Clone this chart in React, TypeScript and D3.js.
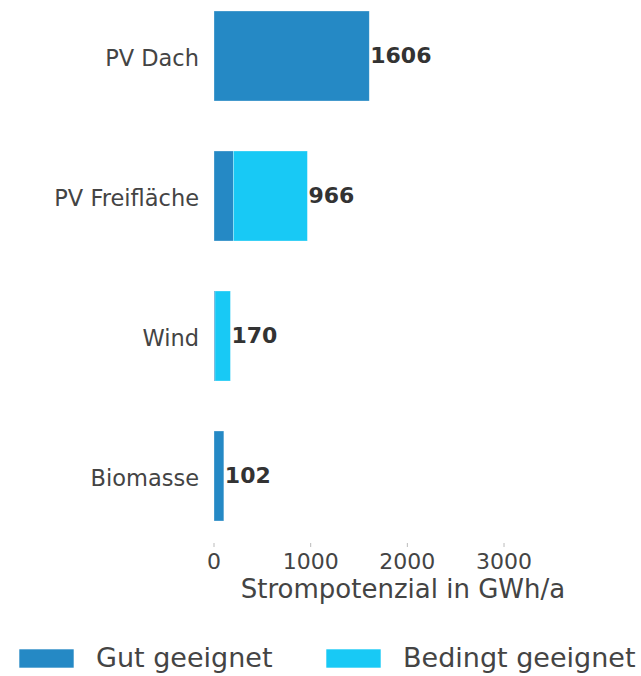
import React from "react";
import * as d3 from "d3";

const categories = ["PV Dach", "PV Freifläche", "Wind", "Biomasse"];
const gutGeeignet = [1606, 200, 10, 102];
const bedingtGeeignet = [0, 766, 160, 0];
const seriesNames = ["Gut geeignet", "Bedingt geeignet"];
const tickValues = [0, 1000, 2000, 3000];
const xMax = 3910;
const xTitle = "Strompotenzial in GWh/a";

const colors = ["#2589c5", "#18c9f5"];
const FONT = "DejaVu Sans, sans-serif";

export default function App() {
  const W = 641;
  const H = 676;
  const x = d3.scaleLinear().domain([0, xMax]).range([214, 592]);
  const y = d3
    .scaleBand<string>()
    .domain(categories)
    .range([-14, 546])
    .paddingInner(50 / 140)
    .paddingOuter(25 / 140);

  const rows = categories.map((c, i) => ({
    cat: c,
    gut: gutGeeignet[i],
    bedingt: bedingtGeeignet[i],
  }));
  const stack = d3.stack<any>().keys(["gut", "bedingt"]);
  const layers = stack(rows);

  return (
    <svg
      width={W}
      height={H}
      style={{ position: "absolute", left: 0, top: 0, background: "#fff" }}
      fontFamily={FONT}
    >
      {layers.map((layer, li) => (
        <g key={li} fill={colors[li]}>
          {layer.map((d, i) => {
            const w = x(d[1]) - x(d[0]);
            if (w <= 0) return null;
            return (
              <rect
                key={i}
                x={x(d[0])}
                y={y(categories[i])!}
                width={w}
                height={y.bandwidth()}
                stroke="#ffffff"
                strokeOpacity={0.5}
                strokeWidth={0.6}
              />
            );
          })}
        </g>
      ))}
      {rows.map((r, i) => {
        const cy = y(r.cat)! + y.bandwidth() / 2;
        const total = r.gut + r.bedingt;
        return (
          <g key={r.cat}>
            <text
              x={199}
              y={cy + 9.5}
              textAnchor="end"
              fontSize={22.5}
              fill="#444"
            >
              {r.cat}
            </text>
            <text
              x={x(total) + 1}
              y={cy + 7}
              fontSize={22}
              fontWeight="bold"
              fill="#333"
            >
              {total}
            </text>
          </g>
        );
      })}
      {tickValues.map((t) => (
        <g key={t}>
          <line x1={x(t)} x2={x(t)} y1={543} y2={547} stroke="#bbb" strokeWidth={1} />
          <text x={x(t)} y={569} textAnchor="middle" fontSize={22} fill="#444">
            {t}
          </text>
        </g>
      ))}
      <text
        x={(x.range()[0] + x.range()[1]) / 2}
        y={598}
        textAnchor="middle"
        fontSize={26}
        fill="#444"
      >
        {xTitle}
      </text>
      {seriesNames.map((s, i) => {
        const lx = i === 0 ? 19 : 326;
        return (
          <g key={s}>
            <rect x={lx} y={649} width={55} height={19} fill={colors[i]} stroke="#fff" strokeWidth={0.6} />
            <text x={lx + 77} y={667} fontSize={27} fill="#444">
              {s}
            </text>
          </g>
        );
      })}
    </svg>
  );
}
